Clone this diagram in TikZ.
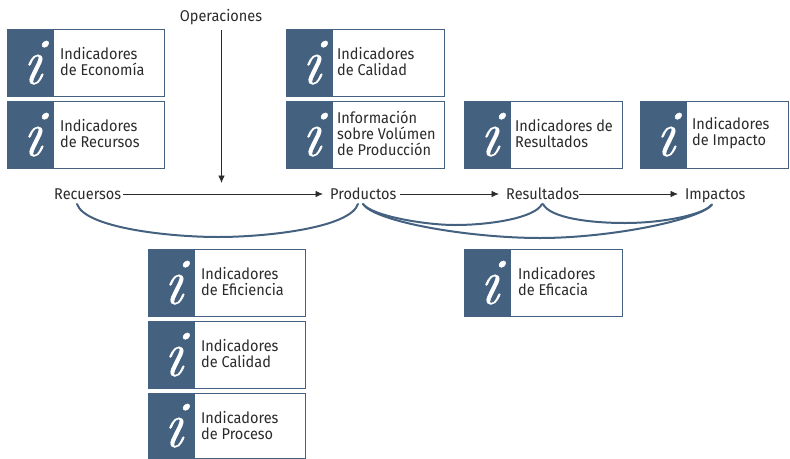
\documentclass[tikz,border=0pt]{standalone}
\usepackage{fontspec}
\setmainfont{Fira Sans}[FakeStretch=0.93]
\newfontfamily\ifont{Latin Modern Roman}[ItalicFeatures={FakeSlant=0.12,FakeBold=0.7}]
\usetikzlibrary{arrows.meta}
\definecolor{slate}{HTML}{44617F}
\definecolor{ink}{HTML}{2B2B2B}
\tikzset{
  x=1pt,y=-1pt,
  lab/.style={font=\fontsize{15.6}{16}\selectfont,text=ink,inner sep=0pt},
  boxtext/.style={lab,anchor=west,align=left},
  arr/.style={draw=ink,line width=.8pt,-{Latex[length=7.5pt,width=6.5pt]}},
  brace/.style={draw=slate,line width=2pt,line cap=round},
}
\newcommand{\indbox}[7]{% name,x,y,w,h,text x,text
  \node[draw=slate,line width=1.4pt,fill=white,minimum width=#4pt,minimum height=#5pt,anchor=north west,inner sep=0pt] (#1) at (#2,#3) {};
  \node[fill=slate,minimum width=47pt,minimum height=#5pt,anchor=north west,inner sep=0pt,text=white] (#1i) at (#2,#3) {\ifont\itshape\fontsize{66}{66}\selectfont i};
  \node[boxtext] (#1t) at (#6,#3+32.5) {#7};
}
\begin{document}
\begin{tikzpicture}
\useasboundingbox (0,0) rectangle (790,458);
\indbox{a}{7}{29}{157}{67}{60}{Indicadores\\de Economía}
\indbox{b}{7}{101}{157}{67}{60}{Indicadores\\de Recursos}
\indbox{c}{286}{29}{158}{67}{337}{Indicadores\\de Calidad}
\indbox{d}{286}{101}{158}{67}{337}{Información\\sobre Volúmen\\de Producción}
\indbox{e}{464}{101}{158}{67}{515}{Indicadores de\\Resultados}
\indbox{f}{640}{101}{148}{67}{692}{Indicadores\\de Impacto}
\indbox{g}{148}{249}{157}{67}{201}{Indicadores\\de Eficiencia}
\indbox{h}{148}{321}{157}{67}{201}{Indicadores\\de Calidad}
\indbox{j}{148}{393}{157}{65}{201}{Indicadores\\de Proceso}
\indbox{k}{464}{249}{158}{67}{518}{Indicadores\\de Eficacia}
\node[lab,anchor=base] (op) at (221,21) {Operaciones};
\node[lab,anchor=base west] (rec) at (54,199) {Recuersos};
\node[lab,anchor=base west] (prod) at (330,199) {Productos};
\node[lab,anchor=base west] (res) at (506,199) {Resultados};
\node[lab,anchor=base west] (imp) at (685,199) {Impactos};
\coordinate (mtop) at (221.5,30);
\coordinate (mid) at (221.5,183);
\draw[arr] (mtop) -- (mid);
\coordinate (a1s) at (123,194);
\coordinate (a1e) at (323,194);
\coordinate (a2s) at (400,194);
\coordinate (a2e) at (499,194);
\coordinate (a3s) at (579,194);
\coordinate (a3e) at (678,194);
\draw[arr] (a1s) -- (a1e);
\draw[arr] (a2s) -- (a2e);
\draw[arr] (a3s) -- (a3e);
\coordinate (r1) at (77,204);
\coordinate (p1) at (358,204);
\coordinate (p2) at (363,204);
\coordinate (s1) at (542,204);
\coordinate (s2) at (543,204);
\coordinate (i1) at (712,204.5);
\draw[brace] (r1) .. controls (85,228) and (170,237) .. (218,237) .. controls (266,237) and (350,228) .. (p1);
\draw[brace] (p2) .. controls (372,216) and (425,225) .. (455,225) .. controls (490,225) and (535,218) .. (s1);
\draw[brace] (s2) .. controls (550,218) and (590,223) .. (625,223) .. controls (665,223) and (705,214) .. (i1);
\draw[brace] (p2) .. controls (375,222) and (470,238) .. (540,238) .. controls (610,238) and (700,220) .. (i1);
\end{tikzpicture}
\end{document}
